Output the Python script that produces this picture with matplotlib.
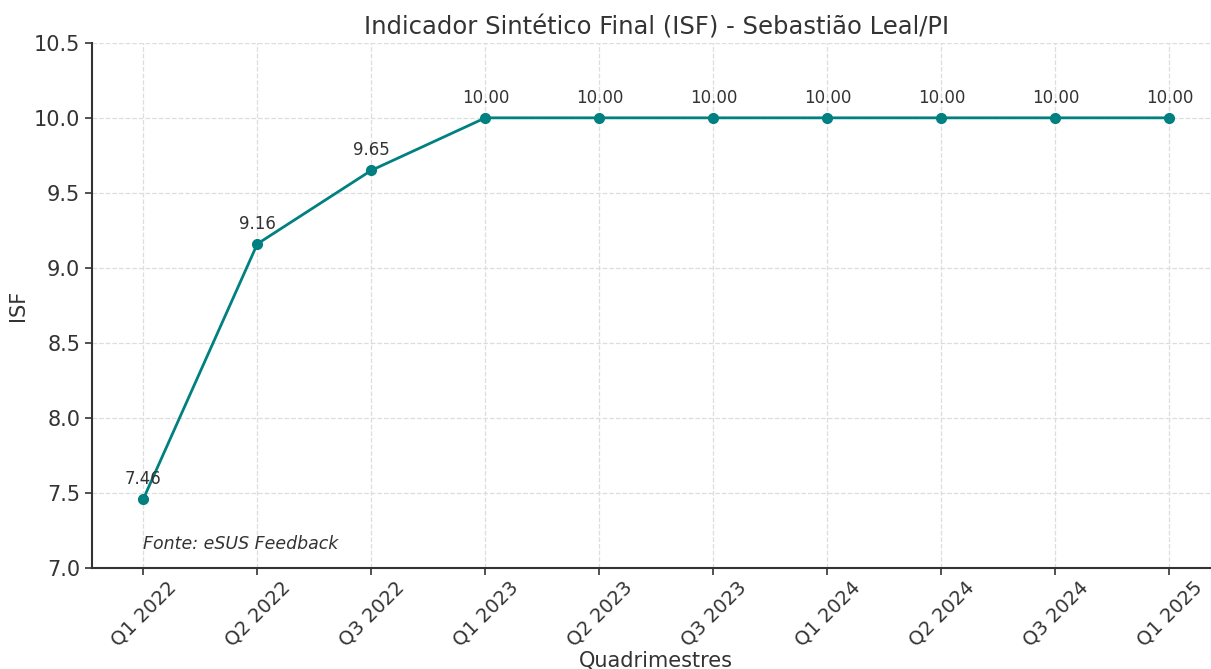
import matplotlib
matplotlib.use("Agg")
import matplotlib.pyplot as plt

quadrimestres = ["Q1 2022", "Q2 2022", "Q3 2022", "Q1 2023", "Q2 2023",
                 "Q3 2023", "Q1 2024", "Q2 2024", "Q3 2024", "Q1 2025"]
isf = [7.46, 9.16, 9.65, 10.00, 10.00, 10.00, 10.00, 10.00, 10.00, 10.00]

cor_linha = "#008080"
cor_texto = "#333333"

fig = plt.figure(figsize=(12.11, 6.69), dpi=100)
ax = fig.add_axes([0.076, 0.151, 0.932, 0.785])

x = list(range(len(quadrimestres)))
ax.plot(x, isf, color=cor_linha, linewidth=2, marker="o", markersize=7)

for xi, v in zip(x, isf):
    ax.annotate(f"{v:.2f}", (xi, v), textcoords="offset points", xytext=(0, 8),
                ha="center", va="bottom", fontsize=12, color=cor_texto)

ax.set_ylim(7.0, 10.5)
ax.set_xlim(-0.45, len(x) - 1 + 0.45)
ax.set_xticks(x)
ax.set_xticklabels(quadrimestres, rotation=45, ha="center", fontsize=14, color=cor_texto)
ax.tick_params(axis="y", labelsize=15, labelcolor=cor_texto)
ax.tick_params(axis="both", color=cor_texto, length=5, width=1.2)
ax.tick_params(axis="x", pad=2)

ax.set_title("Indicador Sintético Final (ISF) - Sebastião Leal/PI", fontsize=17.5, color=cor_texto)
ax.set_xlabel("Quadrimestres", fontsize=15, color=cor_texto)
ax.xaxis.set_label_coords(0.5, -0.158)
ax.set_ylabel("ISF", fontsize=15, color=cor_texto)

ax.grid(True, linestyle="--", color="#dddddd", linewidth=0.9)
ax.set_axisbelow(True)
for lado in ["top", "right"]:
    ax.spines[lado].set_visible(False)
for lado in ["left", "bottom"]:
    ax.spines[lado].set_color(cor_texto)
    ax.spines[lado].set_linewidth(1.5)

ax.text(0.0, 7.1, "Fonte: eSUS Feedback", fontsize=12.5, style="italic", color=cor_texto,
        ha="left", va="bottom")

fig.savefig("out.png", dpi=100)
